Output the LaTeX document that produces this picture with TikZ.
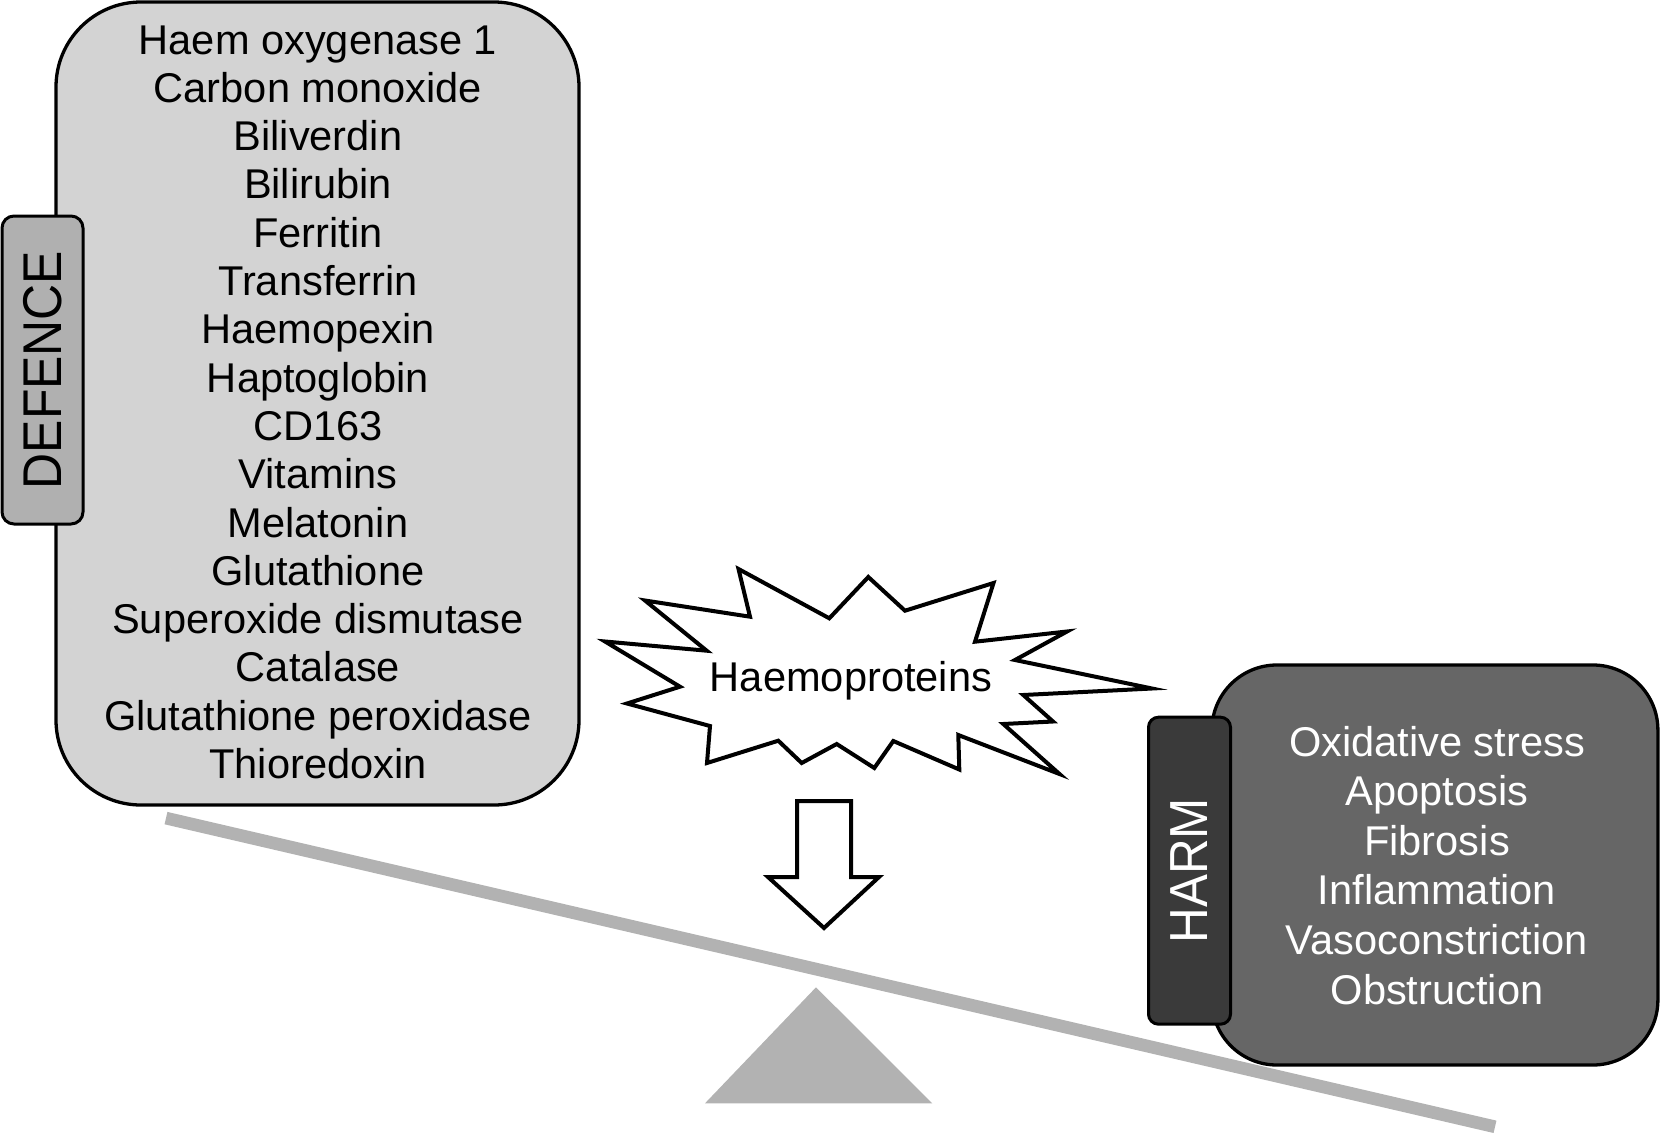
\documentclass[tikz,border=0pt]{standalone}
\usepackage{fontspec}
\setmainfont{Liberation Sans}
\usepackage{graphicx}
\definecolor{defbg}{RGB}{211,211,211}
\definecolor{deftabbg}{RGB}{176,176,176}
\definecolor{harmbg}{RGB}{102,102,102}
\definecolor{harmtabbg}{RGB}{58,58,58}
\definecolor{beamgray}{RGB}{178,178,178}
\begin{document}
\begin{tikzpicture}[x=1pt,y=-1pt,
  txt/.style={anchor=base, inner sep=0pt, font=\fontsize{41.6}{48}\selectfont},
  box/.style={draw=black, line width=3.3pt, inner sep=0pt},
  tab/.style={draw=black, line width=3pt, inner sep=0pt, rotate=90},
  outline/.style={draw=black, line width=4pt, fill=white, line join=miter, miter limit=25}]
\useasboundingbox (0,0) rectangle (1663,1135);
% balance beam and fulcrum
\coordinate (beamL) at (166,818.1);
\coordinate (beamR) at (1495,1126.8);
\draw[beamgray, line width=12.7pt] (beamL) -- (beamR);
\fill[beamgray] (816,987.3) -- (705,1103.3) -- (932.3,1103.3) -- cycle;
% defence box
\node[box, fill=defbg, rounded corners=85pt, minimum width=523pt, minimum height=803pt] (defbox) at (317.5,403.5) {};
\node[tab, fill=deftabbg, rounded corners=12pt, minimum width=308pt, minimum height=81pt] (deftab) at (42.5,370)
  {\fontsize{52}{60}\selectfont\scalebox{0.96}[1.05]{DEFENCE}};
\foreach \t [count=\i from 0] in {Haem oxygenase 1, Carbon monoxide, Biliverdin, Bilirubin, Ferritin, Transferrin, Haemopexin, Haptoglobin, CD163, Vitamins, Melatonin, Glutathione, Superoxide dismutase, Catalase, Glutathione peroxidase, Thioredoxin}
  \node[txt] (d\i) at (318,{54+48.3*\i}) {\t};
% harm box
\node[box, fill=harmbg, rounded corners=65pt, minimum width=446pt, minimum height=400pt] (harmbox) at (1434.9,865) {};
\node[tab, fill=harmtabbg, rounded corners=10pt, minimum width=307pt, minimum height=82pt, text=white] (harmtab) at (1189.5,870.7)
  {\fontsize{52}{60}\selectfont\scalebox{0.95}[1.03]{HARM}};
\foreach \t [count=\i from 0] in {Oxidative stress, Apoptosis, Fibrosis, Inflammation, Vasoconstriction, Obstruction}
  \node[txt, text=white] (h\i) at (1437,{756+49.6*\i}) {\t};
% starburst
\draw[outline] (605,641.5) -- (706.7,650.7) -- (645,600.5) -- (750,616.7) -- (738.5,569) -- (829.3,618.3) -- (868.3,577) -- (905,610.7) -- (993.5,583) -- (975,641.7) -- (1067,631.5) -- (1015,660) -- (1152,688.5) -- (1023.3,695) -- (1053,721.5) -- (1003.3,724) -- (1059.5,774) -- (958.3,735) -- (959.3,769.5) -- (893.3,741) -- (874.3,768) -- (836.7,744) -- (801.7,763) -- (778.3,740.7) -- (707,763) -- (710,726) -- (627,703.5) -- (680,686.7) -- cycle;
\node[txt] (haem) at (851,691.7) {Haemoproteins};
% down arrow
\draw[outline] (797,801) -- (851,801) -- (851,877) -- (879,877) -- (824,928) -- (768,877) -- (797,877) -- cycle;
\end{tikzpicture}
\end{document}
